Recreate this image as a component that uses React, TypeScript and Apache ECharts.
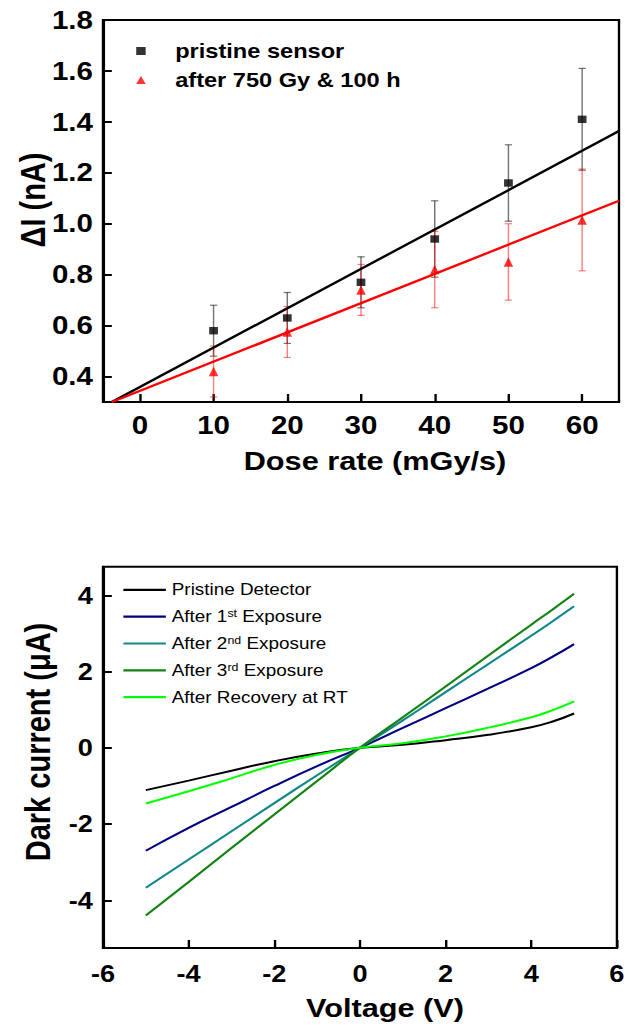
import React, { useEffect, useRef } from "react";
import * as echarts from "echarts";

// Figure is laid out on a narrower canvas and widened horizontally by CSS,
// giving the broad lettering and markers of the printed figure.
const PAGE_W = 628;
const CHART_W = 532;
const PAGE_H = 1028;
const STRETCH = PAGE_W / CHART_W;

const FONT = "'Liberation Sans', Arial, Helvetica, sans-serif";

// ---- Panel (a): current response vs. dose rate ----
const doseRates = [10, 20, 30, 40, 50, 60];
const pristineCurrent = [0.58, 0.63, 0.77, 0.94, 1.16, 1.41];
const pristineError = [0.1, 0.1, 0.1, 0.15, 0.15, 0.2];
const irradiatedCurrent = [0.42, 0.575, 0.74, 0.82, 0.85, 1.015];
const irradiatedError = [0.1, 0.1, 0.1, 0.15, 0.15, 0.2];
const fitDose = [-3.8, 65];
const pristineFit = [0.3, 1.364];
const irradiatedFit = [0.3, 1.09];
const doseTicks = [0, 10, 20, 30, 40, 50, 60];
const deltaITicks = [0.4, 0.6, 0.8, 1.0, 1.2, 1.4, 1.6, 1.8];

// ---- Panel (b): I-V curves ----
const voltages = [-5, -4, -3, -2, -1, 0, 1, 2, 3, 4, 4.5, 5];
const pristineDark = [-1.11, -0.86, -0.6, -0.35, -0.15, 0, 0.08, 0.2, 0.34, 0.54, 0.69, 0.9];
const exposure1Dark = [-2.7, -2.1, -1.55, -1.0, -0.48, 0, 0.52, 1.04, 1.56, 2.09, 2.39, 2.72];
const exposure2Dark = [-3.67, -2.93, -2.19, -1.45, -0.72, 0, 0.72, 1.46, 2.2, 2.94, 3.32, 3.71];
const exposure3Dark = [-4.4, -3.52, -2.63, -1.75, -0.87, 0, 0.8, 1.61, 2.42, 3.23, 3.63, 4.04];
const recoveryDark = [-1.46, -1.14, -0.8, -0.45, -0.18, 0, 0.12, 0.3, 0.53, 0.8, 0.99, 1.22];
const voltageTicks = [-6, -4, -2, 0, 2, 4, 6];
const darkTicks = [-4, -2, 0, 2, 4];

const ivSeries = [
  { name: "Pristine Detector", values: pristineDark, color: "#000000" },
  { name: "After 1st Exposure", values: exposure1Dark, color: "#000080" },
  { name: "After 2nd Exposure", values: exposure2Dark, color: "#108888" },
  { name: "After 3rd Exposure", values: exposure3Dark, color: "#128212" },
  { name: "After Recovery at RT", values: recoveryDark, color: "#00ff00" },
];

const PLOT_LEFT = 103 / STRETCH;
const PLOT_RIGHT = 619 / STRETCH;
const PLOT_W = PLOT_RIGHT - PLOT_LEFT;

function errorBarSeries(values: number[], errors: number[], color: string) {
  return {
    type: "custom",
    xAxisIndex: 0,
    yAxisIndex: 0,
    silent: true,
    encode: { x: 0, y: 1 },
    data: doseRates.map((d, i) => [d, values[i], errors[i]]),
    renderItem: (_params: any, api: any) => {
      const x = api.value(0);
      const y = api.value(1);
      const e = api.value(2);
      const hi = api.coord([x, y + e]);
      const lo = api.coord([x, y - e]);
      const cap = 3.1;
      const style = { stroke: color, lineWidth: 1.2 };
      return {
        type: "group",
        children: [
          { type: "line", shape: { x1: hi[0], y1: hi[1], x2: lo[0], y2: lo[1] }, style },
          { type: "line", shape: { x1: hi[0] - cap, y1: hi[1], x2: hi[0] + cap, y2: hi[1] }, style },
          { type: "line", shape: { x1: lo[0] - cap, y1: lo[1], x2: lo[0] + cap, y2: lo[1] }, style },
        ],
      };
    },
  };
}

const axisCommon = {
  axisLine: { show: true, onZero: false, lineStyle: { color: "#000", width: 2 } },
  splitLine: { show: false },
};

function buildOption() {
  return {
    animation: false,
    backgroundColor: "#ffffff",
    grid: [
      {
        left: PLOT_LEFT,
        top: 20,
        width: PLOT_W,
        height: 382,
        show: true,
        borderColor: "#000",
        borderWidth: 2,
        backgroundColor: "transparent",
      },
      {
        left: PLOT_LEFT,
        top: 566.7,
        width: PLOT_W,
        height: 381.3,
        show: true,
        borderColor: "#000",
        borderWidth: 2,
        backgroundColor: "transparent",
      },
    ],
    xAxis: [
      {
        ...axisCommon,
        gridIndex: 0,
        type: "value",
        min: -5,
        max: 65,
        axisTick: { show: true, inside: true, length: 8, customValues: doseTicks, lineStyle: { color: "#000", width: 2 } },
        axisLabel: {
          customValues: doseTicks,
          margin: 10.5,
          fontSize: 25,
          fontWeight: "bold",
          fontFamily: FONT,
          color: "#000",
        },
      },
      {
        ...axisCommon,
        gridIndex: 1,
        type: "value",
        min: -6,
        max: 6,
        interval: 2,
        axisTick: { show: true, inside: true, length: 8, customValues: voltageTicks, lineStyle: { color: "#000", width: 2 } },
        axisLabel: {
          customValues: voltageTicks,
          showMinLabel: true,
          showMaxLabel: true,
          margin: 14,
          fontSize: 23,
          fontWeight: "bold",
          fontFamily: FONT,
          color: "#000",
        },
      },
    ],
    yAxis: [
      {
        ...axisCommon,
        gridIndex: 0,
        type: "value",
        min: 0.3,
        max: 1.8,
        axisTick: { show: true, inside: true, length: 7.5, customValues: deltaITicks, lineStyle: { color: "#000", width: 2 } },
        axisLabel: {
          customValues: deltaITicks,
          formatter: (v: number) => v.toFixed(1),
          margin: 8.5,
          fontSize: 25,
          fontWeight: "bold",
          fontFamily: FONT,
          color: "#000",
        },
      },
      {
        ...axisCommon,
        gridIndex: 1,
        type: "value",
        min: -5.25,
        max: 4.75,
        axisTick: { show: true, inside: true, length: 7.5, customValues: darkTicks, lineStyle: { color: "#000", width: 2 } },
        axisLabel: {
          customValues: darkTicks,
          margin: 8.5,
          fontSize: 23,
          fontWeight: "bold",
          fontFamily: FONT,
          color: "#000",
        },
      },
    ],
    legend: [
      {
        data: [
          { name: "pristine sensor", icon: "rect" },
          { name: "after 750 Gy & 100 h", icon: "triangle" },
        ],
        orient: "vertical",
        left: 115.4,
        top: 41,
        padding: 0,
        itemWidth: 8,
        itemHeight: 8,
        itemGap: 9,
        selectedMode: false,
        textStyle: {
          fontSize: 20,
          fontWeight: "bold",
          fontFamily: FONT,
          color: "#000",
          lineHeight: 20,
          padding: [0, 0, 0, 20],
        },
      },
      {
        data: ivSeries.map((s) => ({ name: s.name, icon: "rect" })),
        orient: "vertical",
        left: 104.5,
        top: 580.8,
        padding: 0,
        itemWidth: 36,
        itemHeight: 2.2,
        itemGap: 8.85,
        selectedMode: false,
        formatter: (name: string) => name.replace(/(\d)(st|nd|rd)\b/, "$1{sup|$2}"),
        textStyle: {
          fontSize: 16,
          fontFamily: FONT,
          color: "#000",
          lineHeight: 18,
          rich: {
            sup: { fontSize: 10.5, fontFamily: FONT, color: "#000", lineHeight: 4, verticalAlign: "top" },
          },
        },
      },
    ],
    graphic: [
      {
        type: "text",
        x: 28,
        y: 200,
        rotation: Math.PI / 2,
        style: { text: "ΔI (nA)", fontSize: 29, fontWeight: "bold", fontFamily: FONT, fill: "#000", align: "center", verticalAlign: "middle" },
      },
      {
        type: "text",
        x: 375 / STRETCH,
        y: 461,
        style: { text: "Dose rate (mGy/s)", fontSize: 26, fontWeight: "bold", fontFamily: FONT, fill: "#000", align: "center", verticalAlign: "middle" },
      },
      {
        type: "text",
        x: 32,
        y: 742,
        rotation: Math.PI / 2,
        style: { text: "Dark current (μA)", fontSize: 29, fontWeight: "bold", fontFamily: FONT, fill: "#000", align: "center", verticalAlign: "middle" },
      },
      {
        type: "text",
        x: 385 / STRETCH,
        y: 1008,
        style: { text: "Voltage (V)", fontSize: 26, fontWeight: "bold", fontFamily: FONT, fill: "#000", align: "center", verticalAlign: "middle" },
      },
    ],
    series: [
      errorBarSeries(pristineCurrent, pristineError, "rgba(0,0,0,0.55)"),
      errorBarSeries(irradiatedCurrent, irradiatedError, "rgba(255,0,0,0.5)"),
      {
        type: "line",
        xAxisIndex: 0,
        yAxisIndex: 0,
        silent: true,
        symbol: "none",
        data: fitDose.map((d, i) => [d, pristineFit[i]]),
        lineStyle: { color: "#000", width: 2.3 },
      },
      {
        type: "line",
        xAxisIndex: 0,
        yAxisIndex: 0,
        silent: true,
        symbol: "none",
        data: fitDose.map((d, i) => [d, irradiatedFit[i]]),
        lineStyle: { color: "#ff0000", width: 2.3 },
      },
      {
        name: "pristine sensor",
        type: "scatter",
        xAxisIndex: 0,
        yAxisIndex: 0,
        symbol: "rect",
        symbolSize: [7.4, 7.4],
        itemStyle: { color: "#000" },
        data: doseRates.map((d, i) => [d, pristineCurrent[i]]),
      },
      {
        name: "after 750 Gy & 100 h",
        type: "scatter",
        xAxisIndex: 0,
        yAxisIndex: 0,
        symbol: "triangle",
        symbolSize: [8, 9.5],
        itemStyle: { color: "#ff0000" },
        data: doseRates.map((d, i) => [d, irradiatedCurrent[i]]),
      },
      ...ivSeries.map((s) => ({
        name: s.name,
        type: "line",
        xAxisIndex: 1,
        yAxisIndex: 1,
        symbol: "none",
        smooth: 0.5,
        data: voltages.map((v, i) => [v, s.values[i]]),
        lineStyle: { color: s.color, width: 2 },
        itemStyle: { color: s.color },
      })),
    ],
  };
}

export default function App() {
  const ref = useRef<HTMLDivElement>(null);

  useEffect(() => {
    if (!ref.current) return;
    const chart = echarts.init(ref.current, null, { renderer: "svg" });
    chart.setOption(buildOption() as any);
    return () => chart.dispose();
  }, []);

  return (
    <div
      ref={ref}
      style={{
        position: "fixed",
        left: 0,
        top: 0,
        width: CHART_W,
        height: PAGE_H,
        transform: `scaleX(${STRETCH})`,
        transformOrigin: "0 0",
        background: "#ffffff",
      }}
    />
  );
}
